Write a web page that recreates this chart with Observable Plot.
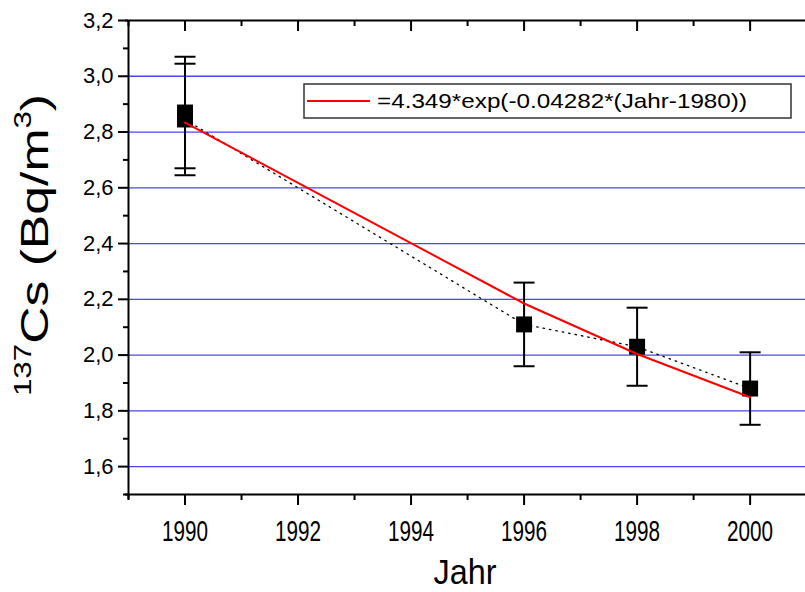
<!DOCTYPE html>
<html><head><meta charset="utf-8">
<script src="https://cdn.jsdelivr.net/npm/d3@7"></script>
<script src="https://cdn.jsdelivr.net/npm/@observablehq/plot@0.6"></script>
<style>body{margin:0;background:#fff} #chart svg{font-family:"Liberation Sans",Arial,sans-serif}</style>
</head><body><div id="chart"></div>
<script>
const years = [1990, 1990, 1996, 1998, 2000];
const values = [2.87, 2.845, 2.11, 2.03, 1.88];
const errors = [0.20, 0.20, 0.15, 0.14, 0.13];
const fitYears = [1990, 1996, 1998, 2000];
const fitValues = [2.834, 2.185, 2.004, 1.849];
const xMajorTicks = [1990, 1992, 1994, 1996, 1998, 2000];
const xMinorTicks = [1989, 1991, 1993, 1995, 1997, 1999];
const yMajorTicks = [1.6, 1.8, 2.0, 2.2, 2.4, 2.6, 2.8, 3.0, 3.2];
const yMinorTicks = [1.5, 1.7, 1.9, 2.1, 2.3, 2.5, 2.7, 2.9, 3.1];
const xDomain = [1989, 2000.98];
const yDomain = [1.5, 3.2];
const legendLabel = "=4.349*exp(-0.04282*(Jahr-1980))";
const xTitle = "Jahr";

const points = years.map((x, i) => ({x, y: values[i], lo: values[i] - errors[i], hi: values[i] + errors[i]}));
const caps = points.flatMap(p => [{x: p.x, y: p.lo}, {x: p.x, y: p.hi}]);
const fit = fitYears.map((x, i) => ({x, y: fitValues[i]}));
const capSymbol = {draw(ctx, size) { const w = Math.sqrt(size / Math.PI); ctx.moveTo(-w, 0); ctx.lineTo(w, 0); }};
const none = () => "";

const W = 805, H = 592;
const plot = Plot.plot({
  width: W, height: H,
  marginLeft: 128, marginRight: 0, marginTop: 20, marginBottom: 98,
  x: {domain: xDomain, label: null},
  y: {domain: yDomain, label: null},
  style: {fontFamily: "Liberation Sans, Arial, sans-serif", color: "black", background: "white"},
  marks: [
    Plot.gridY(yMajorTicks.filter(t => t < yDomain[1]), {stroke: "#4646ff", strokeOpacity: 1, strokeWidth: 1.3}),
    Plot.ruleX([xDomain[0]], {stroke: "black", strokeWidth: 2, insetBottom: -5}),
    Plot.ruleY([yDomain[0], yDomain[1]], {stroke: "black", strokeWidth: 2, insetLeft: -3}),
    Plot.axisY(yMajorTicks, {anchor: "left", tickSize: 10, tickPadding: 5, strokeWidth: 2, fontSize: 22, tickFormat: d => d.toFixed(1).replace(".", ","), label: null}),
    Plot.axisY(yMinorTicks, {anchor: "left", tickSize: 5, strokeWidth: 2, tickFormat: none, label: null}),
    Plot.axisX(xMajorTicks, {anchor: "bottom", tickSize: 11, tickPadding: 14, strokeWidth: 2, fontSize: 30, tickFormat: d => String(d), label: null}),
    Plot.axisX(xMinorTicks, {anchor: "bottom", tickSize: 6, strokeWidth: 2, tickFormat: none, label: null}),
    Plot.axisX(xMajorTicks, {anchor: "top", tickSize: -10, strokeWidth: 2, tickFormat: none, label: null}),
    Plot.axisX(xMinorTicks, {anchor: "top", tickSize: -5, strokeWidth: 2, tickFormat: none, label: null}),
    Plot.ruleX(points, {x: "x", y1: "lo", y2: "hi", stroke: "black", strokeWidth: 2}),
    Plot.dot(caps, {x: "x", y: "y", symbol: capSymbol, r: 10.5, stroke: "black", strokeWidth: 2, fill: "none"}),
    Plot.line(points, {x: "x", y: "y", stroke: "black", strokeWidth: 1.3, strokeDasharray: "1.5,5"}),
    Plot.dot(points, {x: "x", y: "y", symbol: "square", r: 9, fill: "black", stroke: "none"}),
    Plot.line(fit, {x: "x", y: "y", stroke: "red", strokeWidth: 2})
  ]
});
document.getElementById("chart").appendChild(plot);

const svg = d3.select(plot);
// condensed look of the year labels
svg.selectAll('g[aria-label="x-axis tick label"] text').each(function() {
  const t = d3.select(this);
  if (t.text().trim()) t.attr("textLength", 46).attr("lengthAdjust", "spacingAndGlyphs");
});
// legend
const lg = svg.append("g");
lg.append("rect").attr("x", 304).attr("y", 84).attr("width", 487).attr("height", 34)
  .attr("fill", "white").attr("stroke", "#333").attr("stroke-width", 1.5);
lg.append("line").attr("x1", 307).attr("x2", 370).attr("y1", 101).attr("y2", 101)
  .attr("stroke", "red").attr("stroke-width", 2);
lg.append("text").attr("x", 377).attr("y", 108).attr("font-size", 21).attr("text-anchor", "start")
  .attr("textLength", 370).attr("lengthAdjust", "spacingAndGlyphs").text(legendLabel);
// x title
svg.append("text").attr("transform", "translate(465,584) scale(0.9,1)").attr("text-anchor", "middle")
  .attr("font-size", 36).text(xTitle);
// y title with superscripts
const yt = svg.append("text").attr("transform", "translate(48,245) rotate(-90) scale(1.36,1)")
  .attr("text-anchor", "middle").attr("font-size", 38);
yt.append("tspan").attr("font-size", 23).attr("dy", -17).text("137");
yt.append("tspan").attr("dy", 17).text("Cs (Bq/m");
yt.append("tspan").attr("font-size", 23).attr("dy", -17).text("3");
yt.append("tspan").attr("dy", 17).text(")");
</script></body></html>
